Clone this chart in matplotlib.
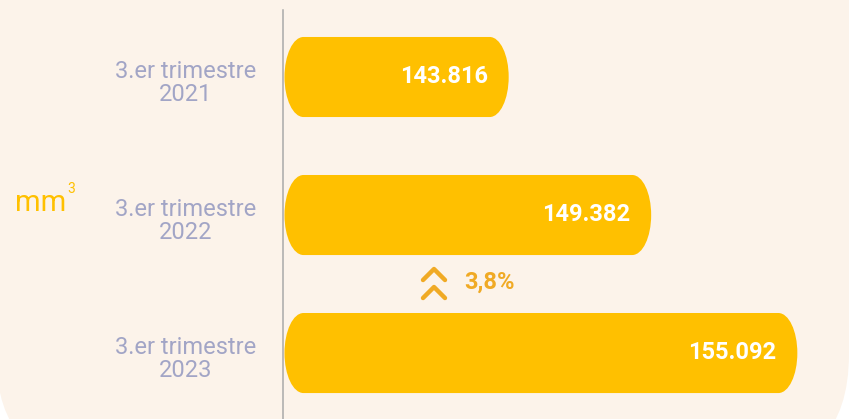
import matplotlib
matplotlib.use('Agg')

import matplotlib.pyplot as plt
import matplotlib.transforms as mtransforms
from matplotlib.patches import FancyBboxPatch, PathPatch
from matplotlib.path import Path

plt.rcParams['font.family'] = ['Roboto', 'DejaVu Sans']

categories = ['3.er trimestre\n2021', '3.er trimestre\n2022', '3.er trimestre\n2023']
values = [143816, 149382, 155092]
value_labels = ['143.816', '149.382', '155.092']
change_label = '3,8%'
unit = 'mm'
unit_exp = '3'

bg = '#FCF3EA'
bar_color = '#FFC000'
label_color = '#A2A5C6'
accent = '#F0AA25'

W, H = 849, 419
fig = plt.figure(figsize=(W / 100, H / 100), dpi=100, facecolor='white')

# card background with rounded bottom corners (pixel coords)
card = FancyBboxPatch((-4, -51), W + 4, H + 500,
                      boxstyle='round,pad=0,rounding_size=116',
                      transform=mtransforms.IdentityTransform(),
                      facecolor=bg, edgecolor='none', zorder=-5)
fig.patches.append(card)

ax = fig.add_axes([283 / W, 0, 566 / W, 409 / H])
ax.set_facecolor('none')
xmin, xmax = 135000, 157110
ax.set_xlim(xmin, xmax)
ax.set_ylim(2.478, -0.4855)

bar_h = 0.58
xpp = (xmax - xmin) / 566.0
rx = 19 * xpp
k = 0.5523


def pill(x0, x1, yc, h):
    # bar with elliptical ends
    verts = [
        (x0 + rx, yc - h), (x1 - rx, yc - h),
        (x1 - rx + k * rx, yc - h), (x1, yc - k * h), (x1, yc),
        (x1, yc + k * h), (x1 - rx + k * rx, yc + h), (x1 - rx, yc + h),
        (x0 + rx, yc + h),
        (x0 + rx - k * rx, yc + h), (x0, yc + k * h), (x0, yc),
        (x0, yc - k * h), (x0 + rx - k * rx, yc - h), (x0 + rx, yc - h),
        (x0 + rx, yc - h),
    ]
    codes = [Path.MOVETO, Path.LINETO] + [Path.CURVE4] * 6 + [Path.LINETO] + \
        [Path.CURVE4] * 6 + [Path.CLOSEPOLY]
    return Path(verts, codes)


for i, v in enumerate(values):
    ax.add_patch(PathPatch(pill(xmin + 1.5 * xpp, v, i, bar_h / 2),
                           facecolor=bar_color, edgecolor='none', zorder=2))
    ax.annotate(value_labels[i], (v, i), xytext=(-21, 1), textcoords='offset pixels',
                ha='right', va='center', color='white', fontsize=17,
                fontweight='bold', zorder=3)

ax.set_yticks(range(len(categories)))
ax.set_yticklabels(categories, fontsize=17, color=label_color,
                   ha='center', linespacing=1.0)
ax.tick_params(axis='y', length=0, pad=70)
shift = mtransforms.Affine2D().translate(0, -3)
for lbl in ax.get_yticklabels():
    lbl.set_transform(lbl.get_transform() + shift)
ax.set_xticks([])
for s in ['top', 'right', 'bottom']:
    ax.spines[s].set_visible(False)
ax.spines['left'].set_color('#A9A9A9')
ax.spines['left'].set_linewidth(1.1)

# change marker between 2022 and 2023
cx = xmin + 151 * xpp
cy = 1.5
tr = mtransforms.Affine2D().scale(1, -1) + mtransforms.ScaledTranslation(cx, cy, ax.transData)
for top, arm in [(-15, -4), (3, 14)]:
    ax.plot([-11, 0, 11], [arm, top, arm], transform=tr, color=accent,
            linewidth=3.2, solid_capstyle='round', solid_joinstyle='round',
            clip_on=False, zorder=3)
ax.annotate(change_label, (cx, cy), xytext=(30, 2), textcoords='offset pixels',
            ha='left', va='center', color=accent, fontsize=17, fontweight='bold')

fig.text(15 / W, 1 - 211 / H, unit, fontsize=21, color=bar_color, va='baseline')
fig.text(67 / W, 1 - 182 / H, unit_exp, fontsize=10, color=bar_color, va='top')

fig.savefig('out.png', dpi=100, facecolor='white')
